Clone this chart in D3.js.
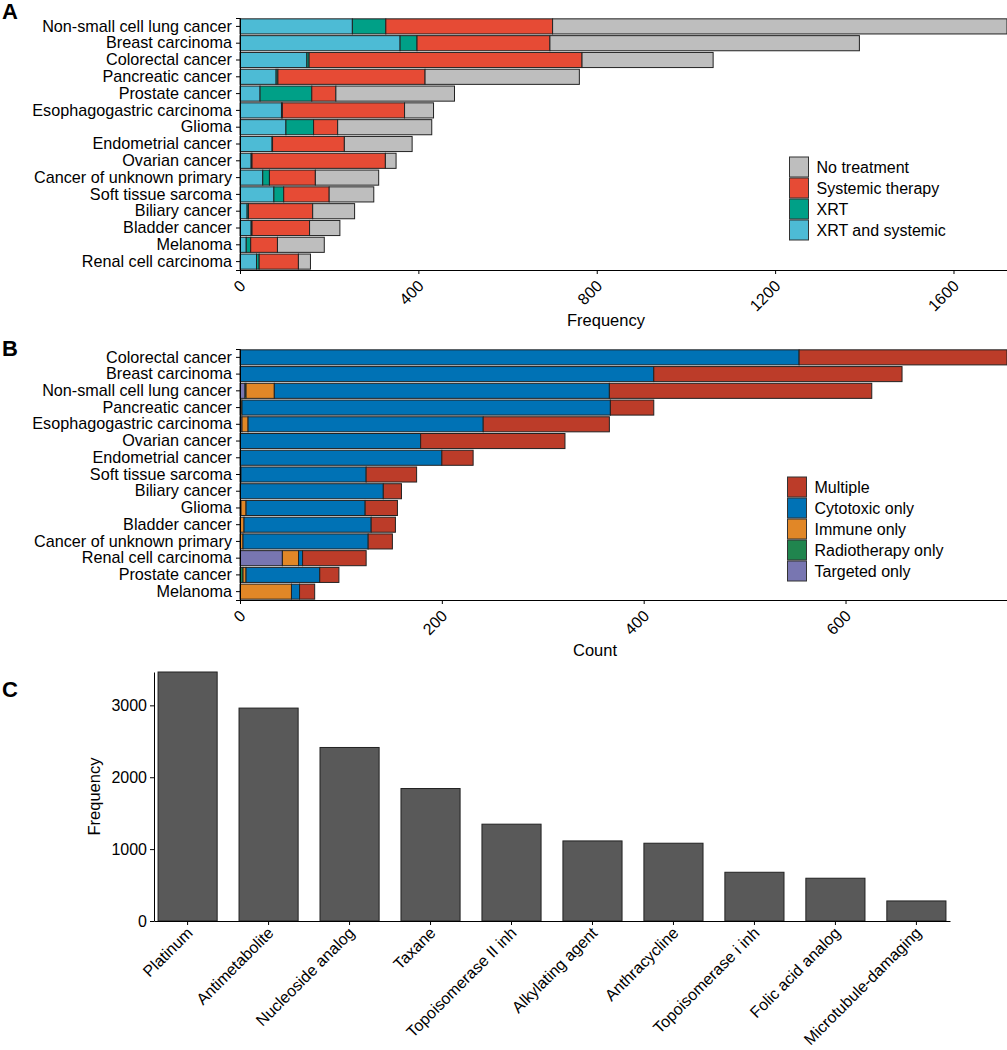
<!DOCTYPE html>
<html>
<head>
<meta charset="utf-8">
<script src="https://cdn.jsdelivr.net/npm/d3@7"></script>
<style>
  body { margin: 0; background: #fff; }
  svg { font-family: "Liberation Sans", Arial, sans-serif; }
  .tick text { fill: #000; }
</style>
</head>
<body>
<svg id="chart" width="1007" height="1050"></svg>
<script>
// ---- Panel A data: treatment by cancer type ----
const cancersA = ["Non-small cell lung cancer", "Breast carcinoma", "Colorectal cancer", "Pancreatic cancer",
  "Prostate cancer", "Esophagogastric carcinoma", "Glioma", "Endometrial cancer", "Ovarian cancer",
  "Cancer of unknown primary", "Soft tissue sarcoma", "Biliary cancer", "Bladder cancer", "Melanoma",
  "Renal cell carcinoma"];
const xrtSystemic = [252, 359, 150, 81, 45, 93, 103, 72, 25, 51, 76, 16, 25, 14, 37];
const xrtOnly     = [75, 38, 5, 4, 116, 2, 62, 1, 2, 15, 22, 3, 2, 10, 6];
const systemic    = [374, 298, 612, 330, 54, 274, 54, 161, 299, 103, 102, 144, 129, 60, 88];
const noTreatment = [1019, 694, 294, 346, 266, 65, 211, 152, 24, 142, 100, 94, 68, 105, 27];
const ticksA = [0, 400, 800, 1200, 1600];

// ---- Panel B data: systemic therapy type by cancer ----
const cancersB = ["Colorectal cancer", "Breast carcinoma", "Non-small cell lung cancer", "Pancreatic cancer",
  "Esophagogastric carcinoma", "Ovarian cancer", "Endometrial cancer", "Soft tissue sarcoma", "Biliary cancer",
  "Glioma", "Bladder cancer", "Cancer of unknown primary", "Renal cell carcinoma", "Prostate cancer", "Melanoma"];
const targetedOnly  = [0, 0, 5, 1, 2, 0, 0, 1, 0, 0, 0, 0, 42, 0, 0];
const radioOnly     = [0, 0, 1, 0, 0, 0, 0, 0, 0, 1, 0, 0, 0, 3, 0];
const immuneOnly    = [0, 0, 28, 1, 6, 0, 0, 0, 0, 5, 4, 3, 16, 3, 51];
const cytotoxicOnly = [554, 410, 332, 365, 233, 179, 200, 124, 142, 118, 126, 124, 4, 73, 8];
const multiple      = [206, 246, 260, 43, 125, 143, 31, 50, 18, 32, 24, 24, 63, 19, 15];
const ticksB = [0, 200, 400, 600];

// ---- Panel C data: drug class frequency ----
const drugClasses = ["Platinum", "Antimetabolite", "Nucleoside analog", "Taxane", "Topoisomerase II inh",
  "Alkylating agent", "Anthracycline", "Topoisomerase i inh", "Folic acid analog", "Microtubule-damaging"];
const drugFreq = [3464, 2962, 2414, 1843, 1347, 1114, 1082, 678, 595, 279];
const ticksC = [0, 1000, 2000, 3000];

const svg = d3.select("#chart");
const fmt = d3.format("d");

function panelLabel(txt, x, y) {
  svg.append("text").attr("x", x).attr("y", y).text(txt)
    .attr("font-size", 22).attr("font-weight", "bold");
}

// Draws a horizontal stacked bar panel
function stackedPanel(opts) {
  const { cats, series, keys, colors, domainMax, top, bottom, ticks, title, titleX, legend } = opts;
  const left = 240, right = 1007;

  const rows = cats.map((c, i) => {
    const r = { cat: c };
    keys.forEach((k, j) => r[k] = series[j][i]);
    return r;
  });
  const stacked = d3.stack().keys(keys)(rows);

  const x = d3.scaleLinear().domain([0, domainMax]).range([left, right]);
  const y = d3.scaleBand().domain(cats).range([top, bottom]).paddingInner(0.1).paddingOuter(0.05);
  const color = d3.scaleOrdinal().domain(keys).range(colors);

  const g = svg.append("g");
  g.selectAll("g.layer").data(stacked).enter().append("g")
    .attr("fill", d => color(d.key))
    .selectAll("rect").data(d => d).enter().append("rect")
    .attr("x", d => x(d[0]))
    .attr("width", d => Math.max(0, x(d[1]) - x(d[0])))
    .attr("y", d => y(d.data.cat))
    .attr("height", y.bandwidth())
    .attr("stroke", "#222").attr("stroke-width", 1);

  // y axis
  const yAxis = g.append("g").attr("transform", `translate(${left},0)`)
    .call(d3.axisLeft(y).tickSize(4).tickPadding(4));
  yAxis.select(".domain").attr("stroke", "#000");
  yAxis.selectAll("text").attr("font-size", 16.2);

  // x axis
  const xAxis = g.append("g").attr("transform", `translate(0,${bottom})`)
    .call(d3.axisBottom(x).tickValues(ticks).tickFormat(fmt).tickSize(4).tickSizeOuter(0));
  xAxis.select(".domain").attr("stroke", "#000");
  xAxis.selectAll("text")
    .attr("font-size", 16)
    .attr("text-anchor", "end")
    .attr("dy", 0).attr("y", 0)
    .attr("transform", "translate(6,17) rotate(-45)");

  g.append("text").attr("x", titleX).attr("y", bottom + 56)
    .attr("text-anchor", "middle").attr("font-size", 16.5).text(title);

  // legend
  const lg = g.append("g").attr("transform", `translate(${legend.x},${legend.y})`);
  legend.order.forEach((k, i) => {
    lg.append("rect").attr("x", 0).attr("y", i * 21).attr("width", 19).attr("height", 20)
      .attr("fill", color(k)).attr("stroke", "#333").attr("stroke-width", 1);
    lg.append("text").attr("x", 27).attr("y", i * 21 + 15.5).attr("font-size", 16).text(k);
  });
}

panelLabel("A", 2, 19);
stackedPanel({
  cats: cancersA,
  series: [xrtSystemic, xrtOnly, systemic, noTreatment],
  keys: ["XRT and systemic", "XRT", "Systemic therapy", "No treatment"],
  colors: ["#4DBBD5", "#00A087", "#E64B35", "#BEBEBE"],
  domainMax: 1720, top: 18, bottom: 270, ticks: ticksA,
  title: "Frequency", titleX: 606,
  legend: { x: 789.5, y: 157, order: ["No treatment", "Systemic therapy", "XRT", "XRT and systemic"] }
});

panelLabel("B", 2, 356);
stackedPanel({
  cats: cancersB,
  series: [targetedOnly, radioOnly, immuneOnly, cytotoxicOnly, multiple],
  keys: ["Targeted only", "Radiotherapy only", "Immune only", "Cytotoxic only", "Multiple"],
  colors: ["#7876B1", "#20854E", "#E18727", "#0072B5", "#BC3C29"],
  domainMax: 760, top: 349, bottom: 600, ticks: ticksB,
  title: "Count", titleX: 595,
  legend: { x: 787.5, y: 477, order: ["Multiple", "Cytotoxic only", "Immune only", "Radiotherapy only", "Targeted only"] }
});

// ---- Panel C ----
panelLabel("C", 2, 697);
(function () {
  const left = 154, right = 950, top = 672, bottom = 921;
  const x = d3.scaleBand().domain(drugClasses).range([left, right]).paddingInner(0.27).paddingOuter(0.05);
  const y = d3.scaleLinear().domain([0, 3464]).range([bottom, top]);
  const g = svg.append("g");

  g.selectAll("rect").data(drugClasses).enter().append("rect")
    .attr("x", d => x(d))
    .attr("width", x.bandwidth())
    .attr("y", (d, i) => y(drugFreq[i]))
    .attr("height", (d, i) => bottom - y(drugFreq[i]))
    .attr("fill", "#595959").attr("stroke", "#222").attr("stroke-width", 1);

  const yAxis = g.append("g").attr("transform", `translate(${left},0)`)
    .call(d3.axisLeft(y).tickValues(ticksC).tickFormat(fmt).tickSize(4).tickSizeOuter(0));
  yAxis.select(".domain").attr("stroke", "#000");
  yAxis.selectAll("text").attr("font-size", 16);

  const xAxis = g.append("g").attr("transform", `translate(0,${bottom})`)
    .call(d3.axisBottom(x).tickSize(4).tickSizeOuter(0));
  xAxis.select(".domain").attr("stroke", "#000");
  xAxis.selectAll("text")
    .attr("font-size", 16)
    .attr("text-anchor", "end")
    .attr("dy", 0).attr("y", 0)
    .attr("transform", "translate(6,13) rotate(-45)");

  g.append("text")
    .attr("transform", `translate(100,${(top + bottom) / 2}) rotate(-90)`)
    .attr("text-anchor", "middle").attr("font-size", 16.5).text("Frequency");
})();
</script>
</body>
</html>
